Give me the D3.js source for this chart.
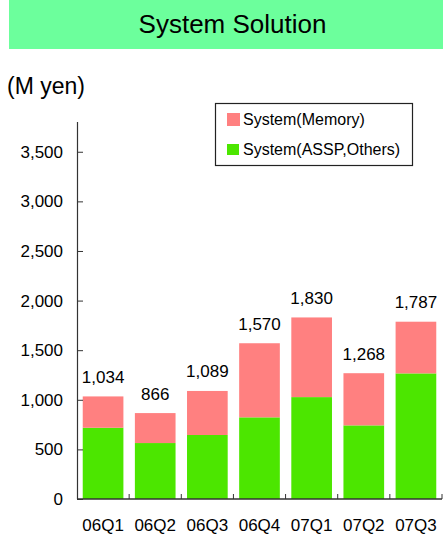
<!DOCTYPE html>
<html>
<head>
<meta charset="utf-8">
<script src="https://cdn.jsdelivr.net/npm/d3@7"></script>
<style>
  html, body { margin: 0; padding: 0; background: #fff; }
  svg { display: block; font-family: "Liberation Sans", Arial, sans-serif; }
</style>
</head>
<body>
<svg id="chart" width="443" height="534"></svg>
<script>
// Quarterly sales of the System Solution segment (M yen)
const quarters = ["06Q1", "06Q2", "06Q3", "06Q4", "07Q1", "07Q2", "07Q3"];
const totals = [1034, 866, 1089, 1570, 1830, 1268, 1787];
const asspOthers = [718, 564, 645, 823, 1027, 742, 1266];
const memory = totals.map((t, i) => t - asspOthers[i]);
const yTicks = [0, 500, 1000, 1500, 2000, 2500, 3000, 3500];
const seriesNames = ["System(Memory)", "System(ASSP,Others)"];

const colors = { memory: "#FF8080", assp: "#4CE600", band: "#6CFF9C", axis: "#333333" };

const svg = d3.select("#chart");

// Title band
svg.append("rect").attr("x", 9).attr("y", 0).attr("width", 434).attr("height", 49)
  .attr("fill", colors.band);
svg.append("text").attr("x", 232.5).attr("y", 33).attr("text-anchor", "middle")
  .attr("font-size", 26).attr("fill", "#000").text("System Solution");

// Unit label
svg.append("text").attr("x", 7).attr("y", 94).attr("font-size", 23).attr("fill", "#000").text("(M yen)");

// Scales
const x = d3.scaleBand().domain(quarters).range([77, 442]).paddingInner(0.22).paddingOuter(0.11);
const y = d3.scaleLinear().domain([0, 3800]).range([499, 122]);

// Stacked data
const rows = quarters.map((q, i) => ({ q, assp: asspOthers[i], memory: memory[i] }));
const stack = d3.stack().keys(["assp", "memory"])(rows);

svg.append("g").selectAll("g").data(stack).join("g")
  .attr("fill", d => colors[d.key])
  .selectAll("rect").data(d => d).join("rect")
  .attr("x", d => x(d.data.q))
  .attr("width", x.bandwidth())
  .attr("y", d => y(d[1]))
  .attr("height", d => y(d[0]) - y(d[1]));

// Total labels
svg.append("g").selectAll("text").data(quarters).join("text")
  .attr("x", q => x(q) + x.bandwidth() / 2)
  .attr("y", (q, i) => y(totals[i]) - 13.5)
  .attr("text-anchor", "middle").attr("font-size", 17).attr("fill", "#000")
  .text((q, i) => d3.format(",")(totals[i]));

// Y axis
const yAxis = d3.axisRight(y).tickValues(yTicks).tickSize(6).tickFormat(d3.format(","));
const gy = svg.append("g").attr("transform", "translate(77,0)").call(yAxis);
gy.select(".domain").remove();
gy.selectAll(".tick line").attr("stroke", colors.axis);
gy.selectAll(".tick text").attr("x", -14).attr("text-anchor", "end")
  .attr("font-size", 17).attr("fill", "#000").attr("font-family", "Liberation Sans, Arial, sans-serif");
svg.append("line").attr("x1", 77.5).attr("x2", 77.5).attr("y1", y(3800)).attr("y2", y(0))
  .attr("stroke", colors.axis).attr("stroke-width", 1.2);

// X axis with ticks at category boundaries
const step = x.step();
const boundaries = d3.range(1, quarters.length + 1).map(i => 77 + i * step);
svg.append("line").attr("x1", 77).attr("x2", 442).attr("y1", y(0)).attr("y2", y(0))
  .attr("stroke", colors.axis).attr("stroke-width", 1.5);
svg.append("g").selectAll("line").data(boundaries).join("line")
  .attr("x1", d => d).attr("x2", d => d).attr("y1", y(0)).attr("y2", y(0) - 5)
  .attr("stroke", colors.axis);
svg.append("g").selectAll("text").data(quarters).join("text")
  .attr("x", q => x(q) + x.bandwidth() / 2).attr("y", 531)
  .attr("text-anchor", "middle").attr("font-size", 17).attr("fill", "#000").text(q => q);

// Legend
const legend = svg.append("g");
legend.append("rect").attr("x", 215.5).attr("y", 103.5).attr("width", 197).attr("height", 62)
  .attr("fill", "#fff").attr("stroke", "#222").attr("stroke-width", 1.2);
const legendColors = [colors.memory, colors.assp];
const items = legend.selectAll("g").data(seriesNames).join("g")
  .attr("transform", (d, i) => `translate(227,${113 + i * 30})`);
items.append("rect").attr("width", (d, i) => i === 0 ? 13 : 12).attr("height", (d, i) => i === 0 ? 13 : 11)
  .attr("y", (d, i) => i === 0 ? 0 : 1)
  .attr("fill", (d, i) => legendColors[i]);
items.append("text").attr("x", 16).attr("y", 11.5).attr("font-size", 16).attr("fill", "#000").text(d => d);
</script>
</body>
</html>
